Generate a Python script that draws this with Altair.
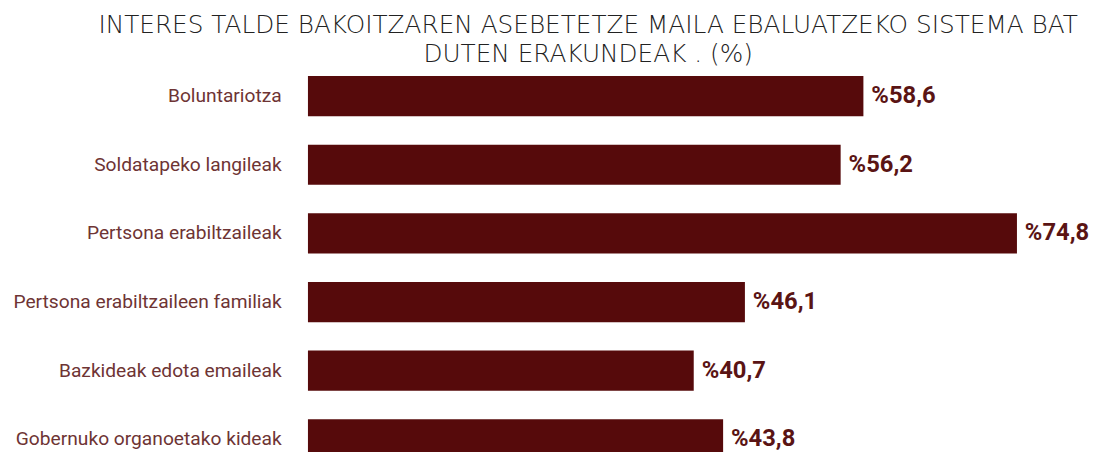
import altair as alt
import pandas as pd

categories = [
    "Boluntariotza",
    "Soldatapeko langileak",
    "Pertsona erabiltzaileak",
    "Pertsona erabiltzaileen familiak",
    "Bazkideak edota emaileak",
    "Gobernuko organoetako kideak",
]
values = [58.6, 56.2, 74.8, 46.1, 40.7, 43.8]
labels = ["%" + f"{v:.1f}".replace(".", ",") for v in values]

df = pd.DataFrame({"cat": categories, "val": values, "lab": labels})

y = alt.Y(
    "cat:N",
    sort=categories,
    title=None,
    scale=alt.Scale(paddingInner=0.415, paddingOuter=0.2075),
    axis=alt.Axis(
        ticks=False,
        domain=False,
        labelFont="Roboto",
        labelFontSize=19.4,
        labelColor="#6e3434",
        labelPadding=27,
        labelLimit=400,
    ),
)
x = alt.X("val:Q", scale=alt.Scale(domain=[0, 80]), axis=None)

bars = alt.Chart(df).mark_bar(color="#560a0b").encode(x=x, y=y)
text = alt.Chart(df).mark_text(
    align="left", baseline="middle", dx=8, font="Roboto", fontSize=24,
    fontWeight="bold", color="#5a1414"
).encode(x=x, y=y, text="lab:N")

chart = (bars + text).properties(
    width=766,
    height=416,
    padding={"left": 4, "top": 3, "right": 0, "bottom": 0},
    title=alt.TitleParams(
        text=["INTERES TALDE BAKOITZAREN ASEBETETZE MAILA EBALUATZEKO SISTEMA BAT",
              "DUTEN ERAKUNDEAK . (%)"],
        font="DejaVu Sans",
        fontSize=25,
        fontWeight=200,
        color="#222222",
        lineHeight=29,
        anchor="middle",
        frame="group",
        dx=-100,
        offset=-5,
    ),
).configure_view(stroke=None)

chart.save("out.html", embed_options={"renderer": "svg", "actions": False})
